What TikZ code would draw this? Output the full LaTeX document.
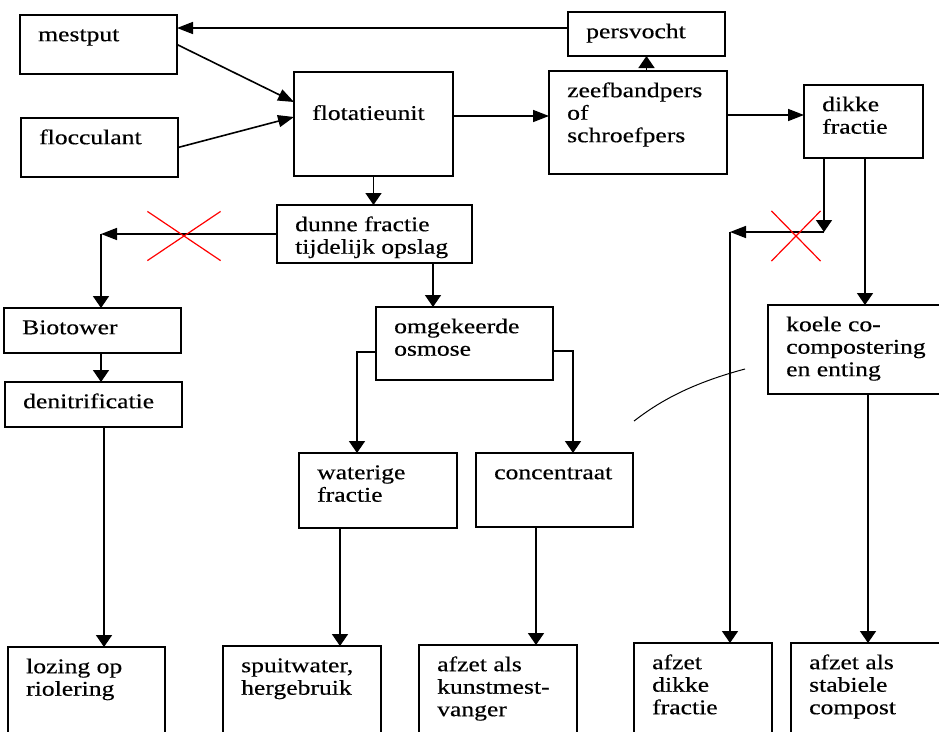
\documentclass[tikz,border=0pt]{standalone}
\usepackage{fontspec}
\setmainfont{Liberation Serif}[FakeStretch=1.22, FakeBold=0.4]
\usetikzlibrary{arrows.meta,shapes.misc}

\begin{document}
\begin{tikzpicture}[x=1pt,y=-1pt,
    box/.style={draw=black, line width=1.8pt, anchor=north west, inner sep=0pt, outer sep=0pt},
    txt/.style={anchor=north west, inner sep=0pt, align=left, xshift=18pt, yshift=-10.25pt,
        font=\fontsize{21}{22.5}\selectfont},
    flow/.style={line width=1.6pt},
    down/.style={flow, -{Triangle[length=12pt,width=16pt]}},
    side/.style={flow, -{Triangle[length=16pt,width=12pt]}},
    crossed/.style={draw=red, line width=1.2pt, cross out, inner sep=0pt}]

    \path[use as bounding box, clip] (0,0) rectangle (939,731);
    \fill[white] (0,0) rectangle (939,731);

    % boxes
    \node[box, minimum width=157, minimum height=59, label={[txt]north west:\strut mestput}] (mestput) at (20,15) {};
    \node[box, minimum width=157, minimum height=59, label={[txt]north west:\strut flocculant}] (floc) at (21,118) {};
    \node[box, minimum width=159, minimum height=104, label={[txt, yshift=-21.75pt]north west:\strut flotatieunit}] (flot) at (294,72) {};
    \node[box, minimum width=157, minimum height=44, label={[txt]north west:\strut persvocht}] (persvocht) at (568,12) {};
    \node[box, minimum width=178, minimum height=103, label={[txt]north west:\strut zeefbandpers\\of\\schroefpers}] (zeef) at (549,71) {};
    \node[box, minimum width=119, minimum height=73, label={[txt]north west:\strut dikke\\fractie}] (dikke) at (804,85) {};
    \node[box, minimum width=195, minimum height=58, label={[txt]north west:\strut dunne fractie\\tijdelijk opslag}] (dunne) at (277,205) {};
    \node[box, minimum width=177, minimum height=45, label={[txt]north west:\strut Biotower}] (bio) at (4,308) {};
    \node[box, minimum width=177, minimum height=45, label={[txt]north west:\strut denitrificatie}] (denit) at (5,382) {};
    \node[box, minimum width=177, minimum height=73, label={[txt]north west:\strut omgekeerde\\osmose}] (omgek) at (376,307) {};
    \node[box, minimum width=158, minimum height=75, label={[txt]north west:\strut waterige\\fractie}] (water) at (299,453) {};
    \node[box, minimum width=157, minimum height=74, label={[txt]north west:\strut concentraat}] (conc) at (476,453) {};
    \node[box, minimum width=180, minimum height=89, label={[txt]north west:\strut koele co-\\compostering\\en enting}] (koele) at (768,305) {};
    \node[box, minimum width=157, minimum height=100, label={[txt]north west:\strut lozing op\\riolering}] (lozing) at (8,647) {};
    \node[box, minimum width=158, minimum height=100, label={[txt]north west:\strut spuitwater,\\hergebruik}] (spuit) at (223,646) {};
    \node[box, minimum width=158, minimum height=100, label={[txt]north west:\strut afzet als\\kunstmest-\\vanger}] (kunst) at (419,645) {};
    \node[box, minimum width=138, minimum height=100, label={[txt]north west:\strut afzet\\dikke\\fractie}] (afzdikke) at (634,643) {};
    \node[box, minimum width=160, minimum height=100, label={[txt]north west:\strut afzet als\\stabiele\\compost}] (stab) at (791,643) {};

    % corners of the bent connectors
    \coordinate (bioturn) at ([xshift=8.5]bio.north |- dunne.west);
    \coordinate (dkdown) at ([xshift=-39.5, yshift=-74]dikke.south);
    \coordinate (dkleft) at ([xshift=27]afzdikke.north |- dkdown);

    % connectors
    \draw[side] ([yshift=6]persvocht.west) -- ([yshift=6]persvocht.west -| mestput.east);
    \draw[side] (mestput.east) -- ([yshift=22]flot.west);
    \draw[side] (floc.east) -- ([yshift=7]flot.west);
    \draw[side] ([yshift=8]flot.east) -- ([yshift=8]flot.east -| zeef.west);
    \draw[down] (zeef.north -| persvocht.south) -- (persvocht.south);
    \draw[side] ([yshift=7.5]zeef.east) -- ([yshift=7.5]zeef.east -| dikke.west);
    \draw[down] (flot.south) -- (flot.south |- dunne.north);

    \draw[side] (dunne.west) -- (bioturn);
    \draw[down] (bioturn) -- ([xshift=8.5]bio.north);
    \draw[down] ([xshift=8.5]bio.south) -- ([xshift=8.5]bio.south |- denit.north);
    \draw[down] ([xshift=10.5]denit.south) -- ([xshift=10.5]denit.south |- lozing.north);

    \draw[down] ([xshift=58.5]dunne.south) -- ([xshift=58.5]dunne.south |- omgek.north);
    \draw[down] ([yshift=-8.5]omgek.west) -| ([xshift=-21]water.north);
    \draw[down] ([yshift=-7.5]omgek.east) -| ([xshift=18.5]conc.north);
    \draw[down] ([xshift=-38]water.south) -- ([xshift=-38]water.south |- spuit.north);
    \draw[down] ([xshift=-18.5]conc.south) -- ([xshift=-18.5]conc.south |- kunst.north);

    \draw[down] ([xshift=-39.5]dikke.south) -- (dkdown);
    \draw[side] (dkdown) -- (dkleft);
    \draw[down] (dkleft) -- ([xshift=27]afzdikke.north);
    \draw[down] ([xshift=1.5]dikke.south) -- ([xshift=1.5]dikke.south |- koele.north);
    \draw[down] ([xshift=10]koele.south) -- ([xshift=10]koele.south |- stab.north);

    % red crosses over the cancelled routes
    \node[crossed, minimum width=72, minimum height=48] (xbio) at (184,236) {};
    \node[crossed, minimum width=48, minimum height=49] (xdikke) at (796,236) {};

    % stray pen stroke
    \draw[line width=1pt] (634,421) .. controls (655,405) and (685,385) .. (745,369);

\end{tikzpicture}
\end{document}
